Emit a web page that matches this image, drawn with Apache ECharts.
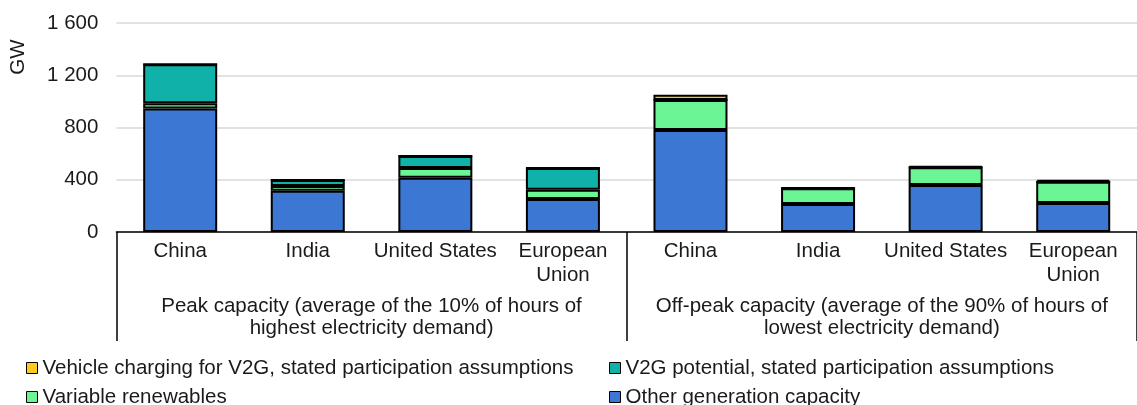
<!DOCTYPE html>
<html>
<head>
<meta charset="utf-8">
<script src="https://cdn.jsdelivr.net/npm/echarts@6/dist/echarts.min.js"></script>
<style>
html,body{margin:0;padding:0;background:#fff;}
#chart{width:1137px;height:405px;}
</style>
</head>
<body>
<div id="chart"></div>
<script>
const countries = ["China", "India", "United States", "European\nUnion", "China", "India", "United States", "European\nUnion"];
const groups = ["Peak capacity (average of the 10% of hours of\nhighest electricity demand)", "Off-peak capacity (average of the 90% of hours of\nlowest electricity demand)"];
const yTicks = [0, 400, 800, 1200, 1600];
const otherGen = [945, 316, 416, 253, 781, 214, 360, 222];
const variableRen = [40, 36, 74, 71, 230, 120, 135, 163];
const v2gPotential = [300, 46, 92, 166, 0, 0, 0, 0];
const vehicleCharging = [0, 0, 0, 0, 40, 5, 10, 15];
const seriesNames = ["Vehicle charging for V2G, stated participation assumptions", "V2G potential, stated participation assumptions", "Variable renewables", "Other generation capacity"];
const colors = { charging: "#FFC822", v2g: "#10B1A8", vre: "#6BF594", other: "#3C78D3" };

const font = "Liberation Sans, Arial, sans-serif";
const fs = 20.5;
const textColor = "#1a1a1a";
const chart = echarts.init(document.getElementById('chart'), null, { renderer: 'canvas' });

function bar(name, data, color) {
  return {
    name: name, type: 'bar', stack: 'total', data: data, barWidth: 74,
    xAxisIndex: 0,
    itemStyle: { color: color, borderColor: '#000', borderWidth: 2 },
    emphasis: { disabled: true }
  };
}

function legendItem(name, left, top) {
  return {
    data: [name], left: left, top: top, padding: 0,
    itemWidth: 11, itemHeight: 11, itemGap: 5, icon: 'rect',
    itemStyle: { borderColor: '#000', borderWidth: 1 },
    textStyle: { fontFamily: font, fontSize: fs, color: textColor, padding: [0, 0, 0, 0] },
    selectedMode: false
  };
}

chart.setOption({
  animation: false,
  grid: { left: 116.4, right: -13.8, top: 23, bottom: 173 },
  xAxis: [
    {
      type: 'category', data: countries, position: 'bottom',
      axisLine: { show: true, lineStyle: { color: '#000', width: 1.5 } },
      axisTick: { show: false },
      axisLabel: { interval: 0, margin: 7, fontFamily: font, fontSize: fs, color: textColor, lineHeight: 24 }
    },
    {
      type: 'category', data: groups, position: 'bottom', gridIndex: 0,
      axisLine: { show: false },
      axisTick: { show: true, length: 109, lineStyle: { color: '#000', width: 1.5 } },
      axisLabel: { interval: 0, margin: 63, fontFamily: font, fontSize: fs, color: textColor, lineHeight: 22 }
    }
  ],
  yAxis: {
    type: 'value', min: yTicks[0], max: yTicks[yTicks.length - 1], interval: 400,
    axisLine: { show: false }, axisTick: { show: false },
    splitLine: { lineStyle: { color: '#D9D9D9', width: 1.5 } },
    axisLabel: {
      margin: 18, fontFamily: font, fontSize: fs, color: textColor,
      formatter: v => String(v).replace(/\B(?=(\d{3})+(?!\d))/g, ' ')
    }
  },
  legend: [
    legendItem(seriesNames[0], 26, 357.5),
    legendItem(seriesNames[2], 26, 386.5),
    legendItem(seriesNames[1], 609, 357.5),
    legendItem(seriesNames[3], 609, 386.5)
  ],
  graphic: [
    { type: 'text', x: 18, y: 57, rotation: Math.PI / 2,
      style: { text: 'GW', fontFamily: font, fontSize: fs, fill: textColor, align: 'center', verticalAlign: 'middle' } }
  ],
  series: [
    bar(seriesNames[3], otherGen, colors.other),
    bar(seriesNames[2], variableRen, colors.vre),
    bar(seriesNames[1], v2gPotential, colors.v2g),
    bar(seriesNames[0], vehicleCharging, colors.charging)
  ]
});
</script>
</body>
</html>
